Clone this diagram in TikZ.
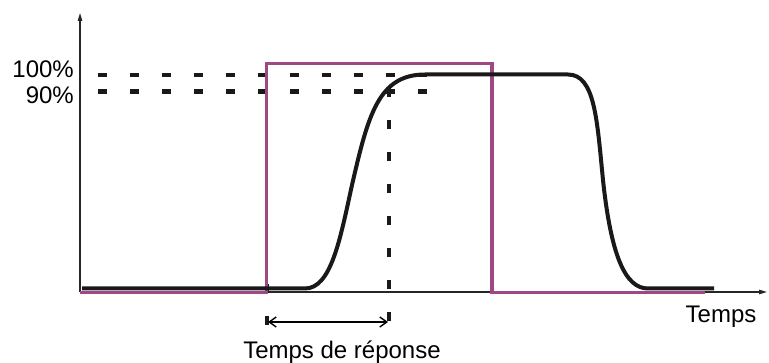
\documentclass[tikz,border=0pt]{standalone}
\usepackage{fontspec}
\setmainfont{Liberation Sans}
\usetikzlibrary{arrows.meta}
\definecolor{sigpurple}{RGB}{160,72,132}
\tikzset{
  axis/.style={line width=1.2pt,draw=black!85,-{Triangle[length=8pt,width=4.5pt]}},
  inputsig/.style={line width=3.2pt,draw=sigpurple},
  response/.style={line width=4pt,draw=black!90},
  guide/.style={line width=4.4pt,draw=black!90,dash pattern=on 9pt off 23pt},
  span/.style={line width=1.4pt,draw=black,{Straight Barb[length=7pt,width=10pt]}-{Straight Barb[length=7pt,width=10pt]}},
  lab/.style={font=\fontsize{24}{24}\selectfont,inner sep=0pt}
}
\begin{document}
\begin{tikzpicture}[x=1pt,y=-1pt]
\useasboundingbox (0,0) rectangle (769,363);
% axes
\coordinate (O) at (80,292);
\coordinate (Ytop) at (80,13);
\coordinate (Xend) at (767,292);
\draw[axis] (O) -- (Ytop);
\draw[axis] (O) -- (Xend);
% guide dashes
\coordinate (h100a) at (98,75);
\coordinate (h100b) at (428,75);
\coordinate (h90a) at (98,91.5);
\coordinate (h90b) at (428,91.5);
\coordinate (v1a) at (389,88);
\coordinate (v1b) at (389,326);
\coordinate (v2a) at (267,284);
\coordinate (v2b) at (267,326);
\draw[guide] (h100a) -- (h100b);
\draw[guide] (h90a) -- (h90b);
\draw[guide] (v1a) -- (v1b);
\draw[guide] (v2a) -- (v2b);
% input step
\coordinate (p0) at (80,292.5);
\coordinate (p1) at (266.5,292.5);
\coordinate (p2) at (266.5,63.5);
\coordinate (p3) at (492,63.5);
\coordinate (p4) at (492,292.5);
\coordinate (p5) at (705,292.5);
\draw[inputsig] (p0) -- (p1) -- (p2) -- (p3) -- (p4) -- (p5);
% response
\coordinate (r0) at (82,288.5);
\coordinate (r1) at (305,288.5);
\coordinate (r2) at (352,185);
\coordinate (r3) at (425,74.5);
\coordinate (r4) at (568,74.5);
\coordinate (r5) at (603,180);
\coordinate (r6) at (648,288.5);
\coordinate (r7) at (714,288.5);
\draw[response,line join=round] (r0) -- (r1)
  .. controls (331,288.5) and (340,240) .. (r2)
  .. controls (368,116) and (378,74.5) .. (r3)
  -- (r4)
  .. controls (595,74.5) and (597,120) .. (r5)
  .. controls (611,255) and (625,288.5) .. (r6)
  -- (r7);
% response time arrow
\coordinate (sa) at (268,322);
\coordinate (sb) at (388,322);
\draw[span] (sa) -- (sb);
% labels
\node[lab,anchor=base east] (l100) at (74,78) {100\%};
\node[lab,anchor=base east] (l90) at (74,104) {90\%};
\node[lab,anchor=base] (lt) at (721,323) {Temps};
\node[lab,anchor=base] (lr) at (342,359) {Temps de réponse};
\end{tikzpicture}
\end{document}
